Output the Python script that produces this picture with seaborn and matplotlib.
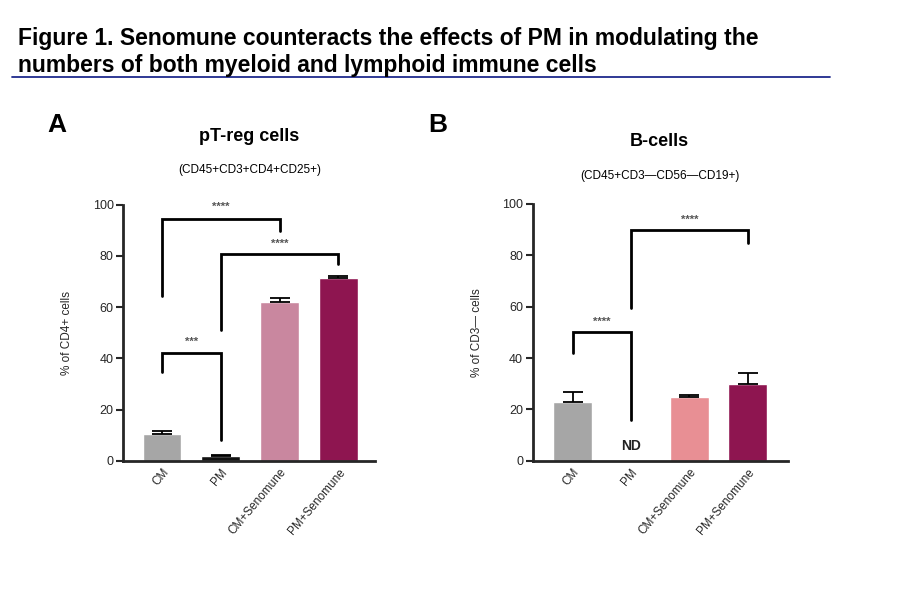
import matplotlib
matplotlib.use('Agg')
import matplotlib.pyplot as plt
import seaborn as sns
import pandas as pd
import numpy as np

sns.set_style('white')
plt.rcParams['font.family'] = ['Liberation Sans', 'DejaVu Sans']
plt.rcParams['text.color'] = 'black'
narrow = ['Liberation Sans Narrow', 'Liberation Sans', 'DejaVu Sans']

groups = ['CM', 'PM', 'CM+Senomune', 'PM+Senomune']

treg_mean = [10.5, 1.8, 62.0, 71.5]
treg_err = [1.2, 0.5, 1.5, 0.8]
treg_colors = ['#a6a6a6', '#111111', '#c9879f', '#8e1550']

bcell_mean = [23.0, 0.0, 24.8, 30.0]
bcell_err = [3.8, 0.0, 0.8, 4.3]
bcell_colors = ['#a6a6a6', '#ffffff', '#e88f94', '#8e1550']

# brackets: (x1, x2, y, leg1 bottom, leg2 bottom, label, label y)
treg_brackets = [(0, 2, 94.5, 64.4, 89.7, '****', 99),
                 (1, 3, 80.6, 51.0, 76.9, '****', 84.5),
                 (0, 1, 42.0, 34.5, 8.0, '***', 46.5)]
bcell_brackets = [(0, 1, 50.1, 41.9, 15.9, '****', 54),
                  (1, 3, 89.7, 59.4, 84.8, '****', 94)]

fig = plt.figure(figsize=(9, 6), dpi=100)

fig.text(0.02, 0.955, 'Figure 1. Senomune counteracts the effects of PM in modulating the\n'
         'numbers of both myeloid and lymphoid immune cells',
         fontsize=16.5, fontweight='bold', va='top', linespacing=1.2)
fig.add_artist(plt.Line2D([0.013, 0.922], [0.872, 0.872], color='#1f2a8c', lw=1.3))


def panel(rect, means, errs, colors, brackets, ylabel, xlim):
    ax = fig.add_axes(rect)
    df = pd.DataFrame({'group': groups, 'value': means})
    sns.barplot(data=df, x='group', y='value', hue='group', palette=colors,
                legend=False, width=0.66, ax=ax, errorbar=None, saturation=1)
    for i, (m, e) in enumerate(zip(means, errs)):
        if m > 0:
            ax.errorbar(i, m, yerr=[[0], [e]], color='black', capsize=7,
                        capthick=1.3, lw=1.3)
    for x1, x2, y, b1, b2, lab, ly in brackets:
        ax.plot([x1, x1, x2, x2], [b1, y, y, b2], color='black', lw=2,
                solid_joinstyle='miter', clip_on=False)
        ax.text((x1 + x2) / 2, ly, lab, ha='center', va='center', fontsize=8,
                fontweight='bold', color='#555555')
    ax.set_ylim(0, 100)
    ax.set_xlim(*xlim)
    ax.set_yticks([0, 20, 40, 60, 80, 100])
    ax.set_xticks(range(4))
    ax.set_xticklabels(groups, rotation=50, ha='right', rotation_mode='anchor',
                       family=narrow, fontsize=8.5)
    for t in ax.get_yticklabels():
        t.set_family(narrow)
        t.set_fontsize(9)
    ax.set_xlabel('')
    ax.set_ylabel(ylabel, family=narrow, fontsize=8.5, labelpad=14)
    ax.tick_params(axis='y', length=5, width=1.5, left=True, pad=2)
    ax.tick_params(axis='x', length=0, pad=4)
    sns.despine(ax=ax)
    for s in ['left', 'bottom']:
        ax.spines[s].set_linewidth(2)
    ax.set_facecolor('none')
    return ax


axA = panel([0.137, 0.232, 0.28, 0.427], treg_mean, treg_err, treg_colors,
            treg_brackets, '% of CD4+ cells', (-0.66, 3.63))
axB = panel([0.592, 0.232, 0.283, 0.428], bcell_mean, bcell_err, bcell_colors,
            bcell_brackets, '% of CD3\u2014 cells', (-0.68, 3.68))
axB.text(1, 5.6, 'ND', ha='center', va='center', fontsize=10, fontweight='bold',
         color='#222222')

fig.text(0.053, 0.792, 'A', fontsize=19, fontweight='bold', va='center')
fig.text(0.476, 0.792, 'B', fontsize=19, fontweight='bold', va='center')
fig.text(0.277, 0.772, 'pT-reg cells', fontsize=13, fontweight='bold', ha='center', va='center')
fig.text(0.277, 0.716, '(CD45+CD3+CD4+CD25+)', fontsize=8.5, ha='center', va='center', family=narrow)
fig.text(0.733, 0.765, 'B-cells', fontsize=13, fontweight='bold', ha='center', va='center')
fig.text(0.733, 0.707, '(CD45+CD3\u2014CD56\u2014CD19+)', fontsize=8.5, ha='center', va='center', family=narrow)

fig.savefig('out.png', dpi=100)
